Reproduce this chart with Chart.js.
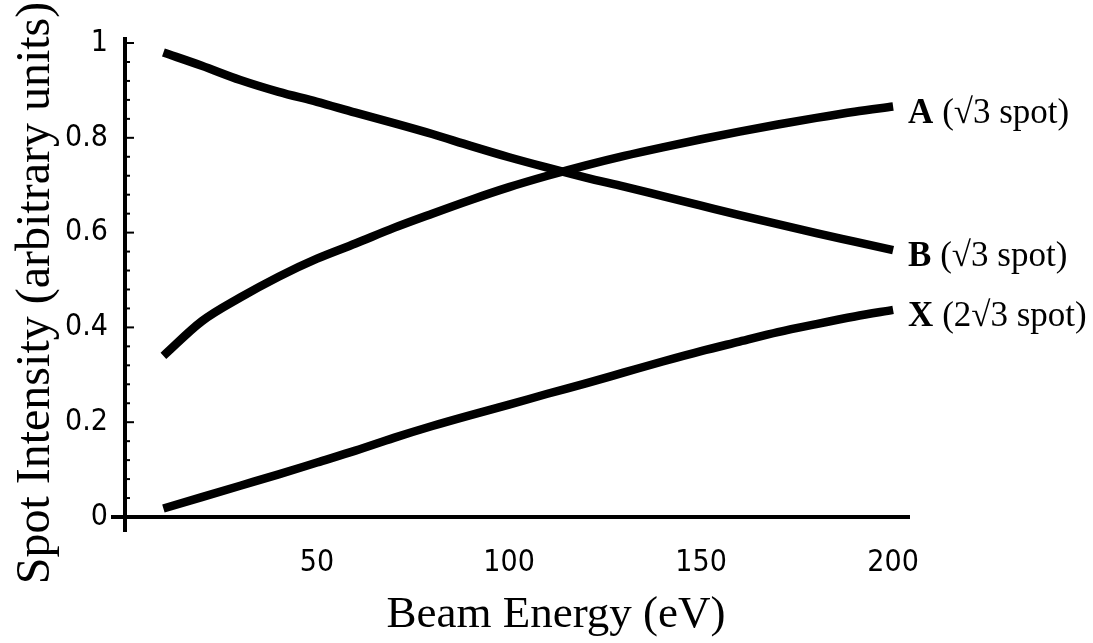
<!DOCTYPE html>
<html>
<head>
<meta charset="utf-8">
<script src="https://cdn.jsdelivr.net/npm/chart.js@4.4.1/dist/chart.umd.min.js"></script>
<style>
  html, body { margin: 0; padding: 0; background: #ffffff; }
  #wrap { width: 1093px; height: 643px; }
</style>
</head>
<body>
<div id="wrap"><canvas id="c" width="1093" height="643"></canvas></div>
<script>
// ---- data ----
const beamEnergy = [10, 20, 30, 40, 50, 60, 70, 80, 90, 100, 110, 120, 130, 140, 150, 160, 170, 180, 190, 200];
const spotA = [0.340, 0.413, 0.463, 0.507, 0.545, 0.577, 0.610, 0.640, 0.669, 0.696, 0.720, 0.742, 0.762, 0.780, 0.797, 0.813, 0.828, 0.842, 0.855, 0.866];
const spotB = [0.980, 0.952, 0.922, 0.897, 0.876, 0.853, 0.831, 0.808, 0.783, 0.759, 0.737, 0.716, 0.697, 0.677, 0.657, 0.637, 0.618, 0.599, 0.581, 0.563];
const spotX = [0.018, 0.042, 0.066, 0.090, 0.115, 0.140, 0.167, 0.192, 0.215, 0.237, 0.260, 0.282, 0.305, 0.328, 0.350, 0.370, 0.390, 0.407, 0.423, 0.437];
const seriesNames = ['A', 'B', 'X'];
const seriesNotes = [' (\u221A3 spot)', ' (\u221A3 spot)', ' (2\u221A3 spot)'];
const xTickValues = [50, 100, 150, 200];
const yTickValues = [0, 0.2, 0.4, 0.6, 0.8, 1];
const yTickLabels = ['0', '0.2', '0.4', '0.6', '0.8', '1'];
const yMinorStep = 0.04;
const xTitle = 'Beam Energy (eV)';
const yTitle = 'Spot Intensity (arbitrary units)';

const toPoints = (ys) => beamEnergy.map((x, i) => ({ x: x, y: ys[i] }));
const seriesValues = [spotA, spotB, spotX];

const tickFont = { family: "'Liberation Sans Narrow', 'DejaVu Sans Condensed', 'Liberation Sans', sans-serif", size: 30 };
const serif = "'Liberation Serif', 'DejaVu Serif', serif";

const axesPlugin = {
  id: 'mathAxes',
  beforeDatasetsDraw(chart) {
    const ctx = chart.ctx;
    const xs = chart.scales.x, ys = chart.scales.y;
    const x0 = xs.getPixelForValue(0), y0 = ys.getPixelForValue(0);
    ctx.save();
    ctx.strokeStyle = '#000';
    ctx.lineWidth = 4;
    ctx.lineCap = 'butt';
    // x axis
    ctx.beginPath();
    ctx.moveTo(x0 - 14, y0);
    ctx.lineTo(xs.right, y0);
    ctx.stroke();
    // y axis
    ctx.beginPath();
    ctx.moveTo(x0, y0 + 15);
    ctx.lineTo(x0, ys.top);
    ctx.stroke();
    // y ticks (major + minor), pointing right
    ctx.lineWidth = 2;
    const nMinor = Math.round(1 / yMinorStep);
    for (let i = 1; i <= nMinor; i++) {
      const v = i * yMinorStep;
      const isMajor = yTickValues.some(t => Math.abs(t - v) < 1e-6);
      const py = ys.getPixelForValue(v);
      ctx.beginPath();
      ctx.moveTo(x0, py);
      ctx.lineTo(x0 + (isMajor ? 9 : 5), py);
      ctx.stroke();
    }
    ctx.restore();
  },
  afterDatasetsDraw(chart) {
    const ctx = chart.ctx;
    const xs = chart.scales.x, ys = chart.scales.y;
    ctx.save();
    ctx.fillStyle = '#000';
    // series labels at the right end of each curve
    ctx.textBaseline = 'alphabetic';
    ctx.textAlign = 'left';
    seriesValues.forEach((vals, i) => {
      const lastX = beamEnergy[beamEnergy.length - 1];
      const px = xs.getPixelForValue(lastX) + 15;
      const py = ys.getPixelForValue(vals[vals.length - 1]) + 16;
      ctx.font = 'bold 35px ' + serif;
      ctx.fillText(seriesNames[i], px, py);
      const w = ctx.measureText(seriesNames[i]).width;
      ctx.font = '35px ' + serif;
      ctx.fillText(seriesNotes[i], px + w, py);
    });
    // axis titles
    ctx.textAlign = 'center';
    ctx.textBaseline = 'middle';
    ctx.font = '45px ' + serif;
    ctx.fillText(xTitle, 556, 615);
    ctx.translate(36, 293);
    ctx.rotate(-Math.PI / 2);
    ctx.font = '48px ' + serif;
    ctx.fillText(yTitle, 0, 0);
    ctx.restore();
  }
};

const mkDataset = (label, ys) => ({
  label: label,
  data: toPoints(ys),
  borderColor: '#000',
  backgroundColor: '#000',
  borderWidth: 8.5,
  borderCapStyle: 'butt',
  borderJoinStyle: 'round',
  pointRadius: 0,
  cubicInterpolationMode: 'monotone',
  fill: false,
  clip: false
});

new Chart(document.getElementById('c'), {
  type: 'line',
  data: {
    datasets: [
      mkDataset(seriesNames[0], spotA),
      mkDataset(seriesNames[1], spotB),
      mkDataset(seriesNames[2], spotX)
    ]
  },
  options: {
    responsive: false,
    animation: false,
    events: [],
    layout: { padding: { top: 37, right: 183, left: 0, bottom: 0 } },
    plugins: { legend: { display: false }, tooltip: { enabled: false } },
    scales: {
      x: {
        type: 'linear',
        min: 0,
        max: 204.4,
        grid: { display: false },
        border: { display: false },
        afterBuildTicks: (s) => { s.ticks = xTickValues.map(v => ({ value: v })); },
        afterFit: (s) => { s.height = 126; },
        ticks: {
          color: '#000',
          font: tickFont,
          padding: 20,
          maxRotation: 0,
          autoSkip: false,
          callback: (v) => String(v)
        },
        title: { display: false, text: xTitle }
      },
      y: {
        type: 'linear',
        min: 0,
        max: 1.0127,
        grid: { display: false },
        border: { display: false },
        afterBuildTicks: (s) => { s.ticks = yTickValues.map(v => ({ value: v })); },
        afterFit: (s) => { s.width = 125; },
        ticks: {
          color: '#000',
          font: tickFont,
          padding: 9,
          autoSkip: false,
          callback: (v) => yTickLabels[yTickValues.findIndex(t => Math.abs(t - v) < 1e-6)]
        },
        title: { display: false, text: yTitle }
      }
    }
  },
  plugins: [axesPlugin]
});
</script>
</body>
</html>
